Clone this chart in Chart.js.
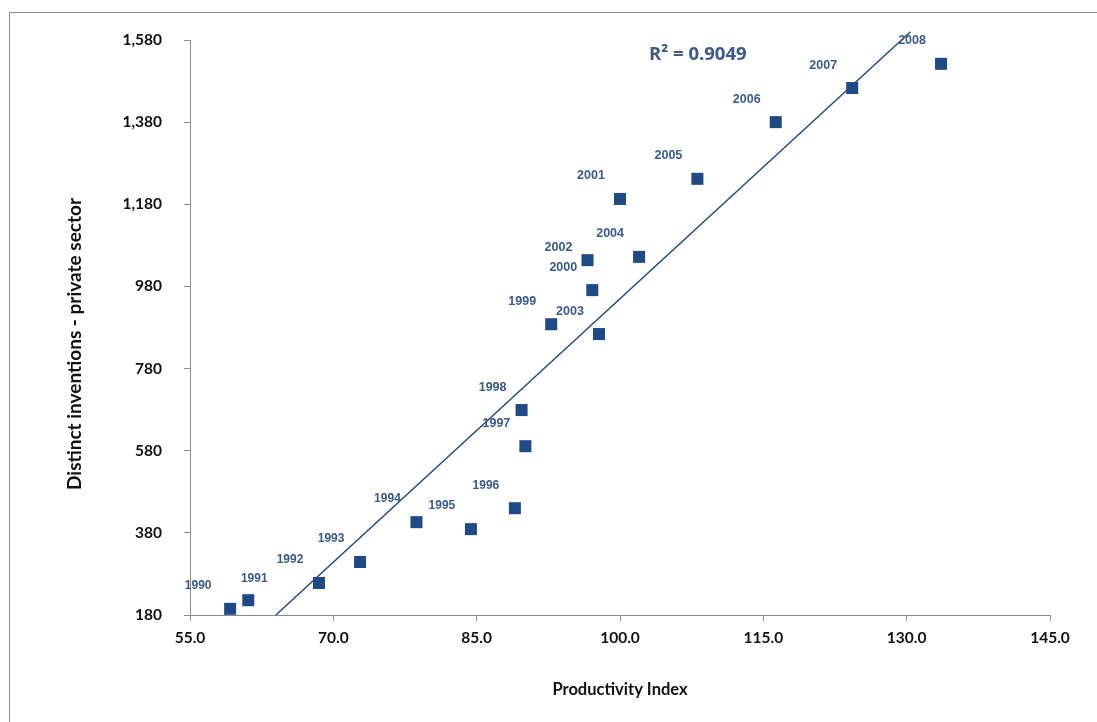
<!DOCTYPE html>
<html>
<head>
<meta charset="utf-8">
<script src="https://cdn.jsdelivr.net/npm/chart.js@4/dist/chart.umd.min.js"></script>
<style>
  html, body { margin: 0; padding: 0; background: #fff; overflow: hidden; }
  #frame { position: absolute; left: 9px; top: 12px; width: 1200px; height: 800px; border: 1px solid #8c8c8c; }
  #chart { position: absolute; left: 0; top: 0; }
</style>
</head>
<body>
<div id="frame"></div>
<canvas id="chart" width="1097" height="722"></canvas>
<script>
const years = ["1990", "1991", "1992", "1993", "1994", "1995", "1996", "1997", "1998", "1999",
  "2000", "2001", "2002", "2003", "2004", "2005", "2006", "2007", "2008"];
const productivity = [59.2, 61.1, 68.5, 72.8, 78.7, 84.4, 89.0, 90.1, 89.7, 92.8,
  97.1, 100.0, 96.6, 97.8, 102.0, 108.1, 116.3, 124.3, 133.6];
const inventions = [195, 216, 258, 309, 406, 389, 440, 591, 679, 888,
  971, 1193, 1044, 864, 1052, 1242, 1380, 1463, 1522];
const xTicks = [55, 70, 85, 100, 115, 130, 145];
const yTicks = [180, 380, 580, 780, 980, 1180, 1380, 1580];
const rSquaredText = "R\u00b2 = 0.9049";
const yTitle = "Distinct inventions - private sector";

const COLORS = {
  point: "#1f4a85",
  label: "#3b5a87",
  axis: "#8c8c8c",
  text: "#111111",
};

// least squares fit, like the spreadsheet trendline
function linearFit(xs, ys) {
  const n = xs.length;
  const mx = xs.reduce((a, b) => a + b, 0) / n;
  const my = ys.reduce((a, b) => a + b, 0) / n;
  let sxy = 0, sxx = 0;
  for (let i = 0; i < n; i++) {
    sxy += (xs[i] - mx) * (ys[i] - my);
    sxx += (xs[i] - mx) ** 2;
  }
  const slope = sxy / sxx;
  return { slope, intercept: my - slope * mx };
}

const fit = linearFit(productivity, inventions);
const trendFrom = yTicks[0];
const trendTo = 1600;
const trendLine = [trendFrom, trendTo].map((y) => ({ x: (y - fit.intercept) / fit.slope, y }));

// label offsets (pixels) from each marker; a few were nudged in the original
const labelShift = { "1990": [-32, -23], "1991": [6, -22], "2002": [-29, -13] };

const yearLabels = {
  id: "yearLabels",
  afterDatasetsDraw(chart) {
    const { ctx } = chart;
    const meta = chart.getDatasetMeta(1);
    ctx.save();
    ctx.fillStyle = COLORS.label;
    ctx.textAlign = "center";
    ctx.textBaseline = "middle";
    meta.data.forEach((pt, i) => {
      const y = years[i];
      const [dx, dy] = labelShift[y] || [-29, -23];
      ctx.font = (i < 7 ? "bold 12px" : "bold 12.5px") + " 'Liberation Sans', Arial, sans-serif";
      ctx.fillText(y, pt.x + dx, pt.y + dy);
    });
    ctx.font = "bold 18.5px 'Open Sans', sans-serif";
    ctx.textAlign = "left";
    ctx.fillText(rSquaredText, 649, 55);

    // y axis title, sits a little below the plot centre in the original
    ctx.fillStyle = COLORS.text;
    ctx.font = "bold 19px Lato, sans-serif";
    ctx.textAlign = "center";
    ctx.translate(75, 344);
    ctx.rotate(-Math.PI / 2);
    ctx.fillText(yTitle, 0, 0);
    ctx.restore();
  },
};

new Chart(document.getElementById("chart"), {
  type: "scatter",
  data: {
    datasets: [
      {
        type: "line",
        label: "Trend",
        data: trendLine,
        borderColor: COLORS.point,
        borderWidth: 1.5,
        pointRadius: 0,
        fill: false,
        clip: false,
      },
      {
        label: "Inventions",
        data: productivity.map((x, i) => ({ x, y: inventions[i] })),
        backgroundColor: COLORS.point,
        borderColor: COLORS.point,
        borderWidth: 0,
        pointStyle: "rect",
        pointRadius: 8.5,
        clip: false,
      },
    ],
  },
  options: {
    responsive: false,
    animation: false,
    devicePixelRatio: 1,
    layout: { padding: { left: 0, top: 40, right: 47, bottom: 0 } },
    plugins: { legend: { display: false }, tooltip: { enabled: false } },
    scales: {
      x: {
        type: "linear",
        min: xTicks[0],
        max: xTicks[xTicks.length - 1],
        afterBuildTicks: (s) => { s.ticks = xTicks.map((v) => ({ value: v })); },
        afterFit: (s) => { s.height = 107; },
        ticks: {
          color: COLORS.text,
          font: { family: "Lato", weight: "bold", size: 15.5 },
          padding: 8,
          maxRotation: 0,
          callback: (v) => Number(v).toFixed(1),
        },
        grid: { drawOnChartArea: false, drawTicks: true, tickLength: 6, color: COLORS.axis },
        border: { display: true, color: COLORS.axis },
        title: {
          display: true,
          text: "Productivity Index",
          color: COLORS.text,
          font: { family: "Lato", weight: "bold", size: 16.5 },
          padding: { top: 0, bottom: 22 },
        },
      },
      y: {
        type: "linear",
        min: yTicks[0],
        max: yTicks[yTicks.length - 1],
        afterBuildTicks: (s) => { s.ticks = yTicks.map((v) => ({ value: v })); },
        afterFit: (s) => { s.width = 190; },
        ticks: {
          color: COLORS.text,
          font: { family: "Lato", weight: "bold", size: 15.5 },
          padding: 22,
          callback: (v) => new Intl.NumberFormat("en-US").format(v),
        },
        grid: { drawOnChartArea: false, drawTicks: true, tickLength: 6, color: COLORS.axis },
        border: { display: true, color: COLORS.axis },
        title: { display: false },
      },
    },
  },
  plugins: [yearLabels],
});
</script>
</body>
</html>
